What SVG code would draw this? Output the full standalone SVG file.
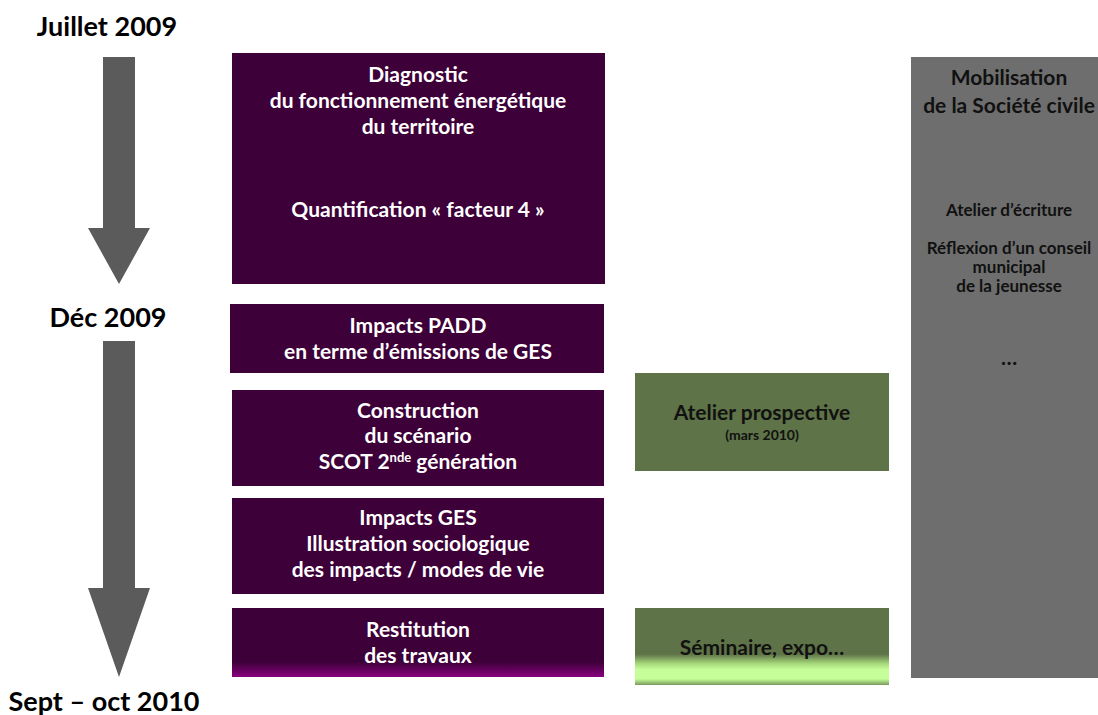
<svg xmlns="http://www.w3.org/2000/svg" width="1098" height="715" viewBox="0 0 1098 715">
<style>
text{font-family:Lato,"Open Sans","Liberation Sans",sans-serif;font-weight:bold;text-anchor:middle}
.date{font-size:27px;fill:#000}
.pt{font-size:21px;fill:#fff}
.gt{font-size:21px;fill:#111}
.gs{font-size:14px;fill:#111}
.ht{font-size:21px;fill:#111}
.hs{font-size:17px;fill:#111}
.purple{fill:#3d0038}
.green{fill:#5e7347}
.arrow{fill:#5b5b5b}
</style>
<defs>
<linearGradient id="pfade" x1="0" y1="0" x2="0" y2="1">
<stop offset="0" stop-color="#3d0038"/>
<stop offset="0.78" stop-color="#3d0038"/>
<stop offset="1" stop-color="#86007e"/>
</linearGradient>
<linearGradient id="gfade" x1="0" y1="0" x2="0" y2="1">
<stop offset="0" stop-color="#5e7347"/>
<stop offset="0.6" stop-color="#5e7347"/>
<stop offset="0.72" stop-color="#a5d67a"/>
<stop offset="0.8" stop-color="#c6ff99"/>
<stop offset="0.92" stop-color="#c6ff99"/>
<stop offset="1" stop-color="#7a9a5c"/>
</linearGradient>
</defs>

<g id="dates">
<text class="date" x="107" y="36">Juillet 2009</text>
<text class="date" x="108" y="327">Déc 2009</text>
<text class="date" x="104" y="711">Sept – oct 2010</text>
</g>

<g id="connectors">
<polygon class="arrow" points="103,57 135,57 135,228 150,228 119,284 88,228 103,228"/>
<polygon class="arrow" points="103,341 135,341 135,588 150,588 119,677 88,588 103,588"/>
</g>

<g id="diagnostic">
<rect class="purple" x="232" y="53" width="373" height="231"/>
<text class="pt" x="418" y="82">Diagnostic</text>
<text class="pt" x="418" y="108">du fonctionnement énergétique</text>
<text class="pt" x="418" y="134">du territoire</text>
<text class="pt" x="418" y="217">Quantification « facteur 4 »</text>
</g>

<g id="impacts-padd">
<rect class="purple" x="230" y="304" width="374" height="69"/>
<text class="pt" x="418" y="333">Impacts PADD</text>
<text class="pt" x="418" y="359">en terme d’émissions de GES</text>
</g>

<g id="construction">
<rect class="purple" x="232" y="390" width="372" height="96"/>
<text class="pt" x="418" y="418">Construction</text>
<text class="pt" x="418" y="443">du scénario</text>
<text class="pt" x="418" y="469">SCOT 2<tspan font-size="13" dy="-7">nde</tspan><tspan dy="7"> génération</tspan></text>
</g>

<g id="impacts-ges">
<rect class="purple" x="232" y="498" width="372" height="96"/>
<text class="pt" x="418" y="525">Impacts GES</text>
<text class="pt" x="418" y="551">Illustration sociologique</text>
<text class="pt" x="418" y="577">des impacts / modes de vie</text>
</g>

<g id="restitution">
<rect x="232" y="608" width="372" height="69" fill="url(#pfade)"/>
<text class="pt" x="418" y="637">Restitution</text>
<text class="pt" x="418" y="663">des travaux</text>
</g>

<g id="atelier-prospective">
<rect class="green" x="635" y="373" width="254" height="98"/>
<text class="gt" x="762" y="420">Atelier prospective</text>
<text class="gs" x="762" y="440">(mars 2010)</text>
</g>

<g id="seminaire">
<rect x="635" y="608" width="254" height="77" fill="url(#gfade)"/>
<text class="gt" x="762" y="655">Séminaire, expo…</text>
</g>

<g id="societe-civile">
<rect x="911" y="57" width="187" height="621" fill="#6e6e6e"/>
<text class="ht" x="1009" y="85">Mobilisation</text>
<text class="ht" x="1009" y="113">de la Société civile</text>
<text class="hs" x="1009" y="216">Atelier d’écriture</text>
<text class="hs" x="1009" y="254">Réflexion d’un conseil</text>
<text class="hs" x="1009" y="273">municipal</text>
<text class="hs" x="1009" y="292">de la jeunesse</text>
<text class="ht" x="1009" y="365" font-size="24">…</text>
</g>
</svg>
